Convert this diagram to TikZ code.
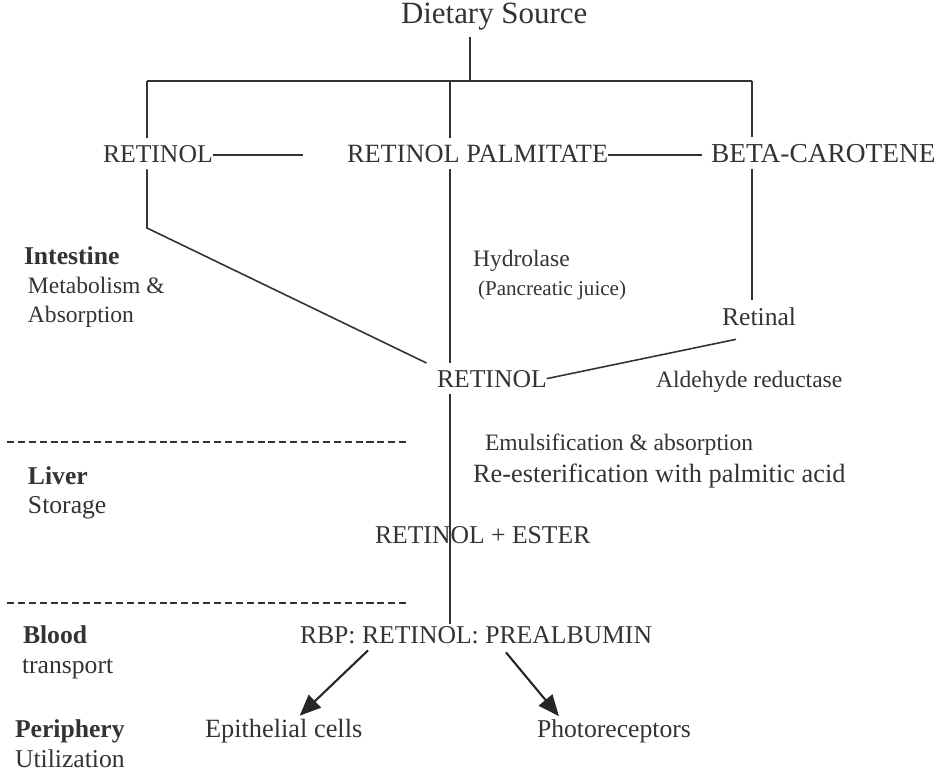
\documentclass[tikz,border=0pt]{standalone}
\usepackage{fontspec}
\setmainfont{Liberation Serif}
\usetikzlibrary{arrows.meta,calc}
\def\fsbig{\fontsize{17.6}{20}\selectfont}
\def\fscap{\fontsize{14.6}{17}\selectfont}
\def\fswid{\fontsize{15.6}{18}\selectfont}
\def\fsmed{\fontsize{13.4}{16}\selectfont}
\def\fssml{\fontsize{12}{14}\selectfont}
\tikzset{
  lbl/.style={inner sep=0pt, outer xsep=0pt, outer ysep=4pt, anchor=base west, text=black!80, font=\fscap},
  conn/.style={draw=black!80, line width=0.9pt},
  arr/.style={draw=black!85, line width=1.2pt, -{Triangle[length=12pt,width=10pt]}},
  zonesep/.style={draw=black!80, line width=1.2pt, dash pattern=on 4pt off 2.2pt}
}
\begin{document}
\begin{tikzpicture}[x=0.02cm, y=-0.02cm]
\useasboundingbox (0,0) rectangle (939,775);
% sources
\node[lbl, font=\fsbig] (diet) at (401,23) {Dietary Source};
\node[lbl] (ret1) at (103,162) {RETINOL};
\node[lbl, font=\fontsize{15}{17}\selectfont] (palm) at (347,162) {RETINOL PALMITATE};
\node[lbl, font=\fswid] (beta) at (711,162) {BETA-CAROTENE};
\coordinate (bar) at (470,81);
\coordinate (barL) at (147,81);
\coordinate (barM) at (450,81);
\coordinate (barR) at (752,81);
\coordinate (ret1end) at (303,155);
\coordinate (palmend) at (702,155);
\coordinate (bendL) at (147,228);
% intestine
\node[lbl, font=\bfseries\fscap] (intst) at (24,264) {Intestine};
\node[lbl, font=\fsmed] (metab) at (28,293) {Metabolism \&};
\node[lbl, font=\fsmed] (absorp) at (28,322) {Absorption};
\node[lbl, font=\fsmed] (hydro) at (473,266) {Hydrolase};
\node[lbl, font=\fssml] (pancr) at (478,295) {(Pancreatic juice)};
\node[lbl] (retinal) at (722,325) {Retinal};
\node[lbl] (ret2) at (437,387) {RETINOL};
\node[lbl, font=\fsmed] (aldred) at (656,387) {Aldehyde reductase};
% liver
\node[lbl, font=\fsmed] (emuls) at (485,450) {Emulsification \& absorption};
\node[lbl, font=\fontsize{15}{17}\selectfont] (reest) at (473,482) {Re-esterification with palmitic acid};
\node[lbl, font=\bfseries\fscap] (liver) at (28,484) {Liver};
\node[lbl] (stor) at (28,513) {Storage};
\node[lbl] (ester) at (375,543) {RETINOL + ESTER};
% blood
\node[lbl, font=\bfseries\fscap] (blood) at (23,643) {Blood};
\node[lbl] (transp) at (22,673) {transport};
\node[lbl] (rbp) at (300,643) {RBP: RETINOL: PREALBUMIN};
% periphery
\node[lbl, font=\bfseries\fscap] (peri) at (15,737) {Periphery};
\node[lbl] (util) at (15,767) {Utilization};
\node[lbl, font=\fontsize{15}{17}\selectfont] (epi) at (205,737) {Epithelial cells};
\node[lbl] (photo) at (537,737) {Photoreceptors};

\draw[conn] (diet.south -| bar) -- (bar);
\draw[conn] (barL) -- (barR);
\draw[conn] (barL) -- (barL |- ret1.north);
\draw[conn] (barM) -- (barM |- palm.north);
\draw[conn] (barR) -- (barR |- beta.north);
\draw[conn] (ret1.east |- ret1end) -- (ret1end);
\draw[conn] (palm.east |- palmend) -- (palmend);
\draw[conn] (barL |- ret1.south) -- (bendL) -- ([xshift=-6pt]ret2.north west);
\draw[conn] (barM |- palm.south) -- (barM |- ret2.north);
\draw[conn] (barR |- beta.south) -- (barR |- retinal.north);
\draw[conn] (ret2.east) -- ([xshift=8pt,yshift=-4pt]retinal.south west);
\draw[conn, shorten >=-3pt] (barM |- ret2.south) -- (barM |- rbp.north);
\draw[zonesep] (7,442) -- (410,442);
\draw[zonesep] (7,603) -- (410,603);
\draw[arr] ($(rbp.south)+(-108,0)$) -- ($(epi.north)+(16,4)$);
\draw[arr] ($(rbp.south)+(30,2)$) -- ($(photo.north)+(-55,4)$);
\end{tikzpicture}
\end{document}
